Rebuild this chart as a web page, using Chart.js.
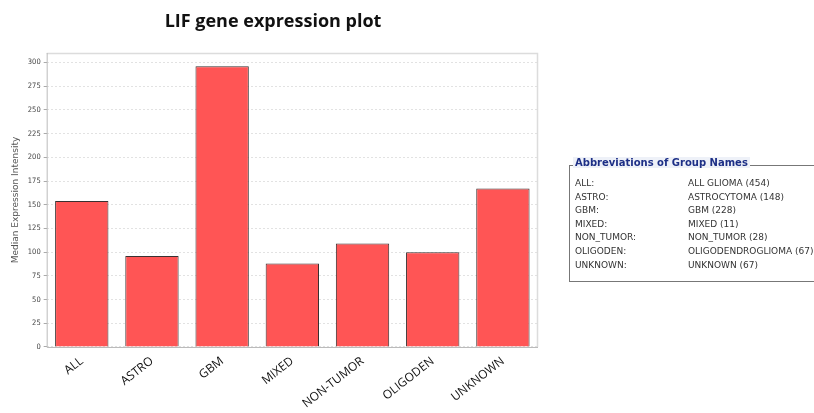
<!DOCTYPE html>
<html><head><meta charset="utf-8">
<script src="https://cdn.jsdelivr.net/npm/chart.js@4"></script>
<style>
html,body{margin:0;padding:0;background:#fff;width:814px;height:413px;overflow:hidden;}
#wrap{position:absolute;left:0;top:0;width:814px;height:413px;overflow:hidden;}
#c{position:absolute;left:0;top:0;}
#title{position:absolute;left:0;width:546px;top:8px;text-align:center;font-family:"Open Sans",sans-serif;font-weight:bold;font-size:18px;color:#111;}
#legend{position:absolute;left:569px;top:165px;width:260px;height:117px;border:1px solid #777;border-right:none;box-sizing:border-box;font-family:"DejaVu Sans",sans-serif;font-size:9px;color:#333;}
#legend .hd{position:absolute;left:3px;top:-9px;background:#eef1f8;color:#1d2f86;font-weight:bold;font-size:10px;padding:0 2px;}
#legend table{position:absolute;left:5px;top:11px;border-collapse:collapse;}
#legend td{padding:0;height:13.6px;line-height:13.6px;white-space:nowrap;}
#legend td.a{width:113px;}
</style></head>
<body>
<div id="wrap">
<canvas id="c" width="814" height="418"></canvas>
<div id="title">LIF gene expression plot</div>
<div id="legend"><div class="hd">Abbreviations of Group Names</div><table id="lt"></table></div>
</div>
<script>
const categories = ["ALL","ASTRO","GBM","MIXED","NON-TUMOR","OLIGODEN","UNKNOWN"];
const medianValues = [154, 96, 296, 88, 109, 100, 167];
const abbrevKeys = ["ALL:","ASTRO:","GBM:","MIXED:","NON_TUMOR:","OLIGODEN:","UNKNOWN:"];
const abbrevNames = ["ALL GLIOMA (454)","ASTROCYTOMA (148)","GBM (228)","MIXED (11)","NON_TUMOR (28)","OLIGODENDROGLIOMA (67)","UNKNOWN (67)"];

const lt = document.getElementById('lt');
abbrevKeys.forEach((k,i)=>{
  const tr=document.createElement('tr');
  const a=document.createElement('td');a.className='a';a.textContent=k;
  const b=document.createElement('td');b.textContent=abbrevNames[i];
  tr.appendChild(a);tr.appendChild(b);lt.appendChild(tr);
});

const frame = {
  id:'frame',
  beforeDatasetsDraw(chart){
    const {ctx, chartArea:a} = chart;
    ctx.save();
    ctx.strokeStyle='#dcdcdc';ctx.lineWidth=1.5;
    ctx.beginPath();
    ctx.moveTo(a.left, a.top+0.5);ctx.lineTo(a.right-0.5, a.top+0.5);ctx.lineTo(a.right-0.5, a.bottom);
    ctx.stroke();
    ctx.strokeStyle='#bbbbbb';ctx.lineWidth=1;
    ctx.beginPath();
    ctx.moveTo(a.left+0.5, a.top);ctx.lineTo(a.left+0.5, a.bottom+0.5);ctx.lineTo(a.right, a.bottom+0.5);
    ctx.stroke();
    ctx.restore();
  }
};

new Chart(document.getElementById('c'), {
  type:'bar',
  data:{labels:categories, datasets:[{data:medianValues, backgroundColor:'#ff5555', borderColor:'#3a3030', borderWidth:1, barPercentage:0.76, categoryPercentage:1}]},
  options:{
    responsive:false, animation:false,
    layout:{padding:{left:10,right:276,top:53,bottom:0}},
    plugins:{legend:{display:false}, tooltip:{enabled:false}},
    scales:{
      x:{
        grid:{display:false, drawTicks:false},
        border:{display:false},
        ticks:{color:'#111', font:{family:'"Open Sans", sans-serif', size:12}, minRotation:38, maxRotation:38, padding:7}
      },
      y:{
        min:0, max:310,
        afterBuildTicks(s){ s.ticks = s.ticks.filter(t=>t.value<=300); },
        ticks:{stepSize:25, color:'#444', font:{family:'"DejaVu Sans Condensed", sans-serif', size:7.5}, padding:3},
        grid:{color:'#e2e2e2', lineWidth:1, drawTicks:true, tickLength:3, tickColor:'#aaa'},
        border:{display:false, dash:[2,2]},
        title:{display:true, text:'Median Expression Intensity', color:'#555', font:{family:'"DejaVu Sans", sans-serif', size:9}, padding:{top:0,bottom:4}}
      }
    }
  },
  plugins:[frame]
});
</script>
</body></html>
